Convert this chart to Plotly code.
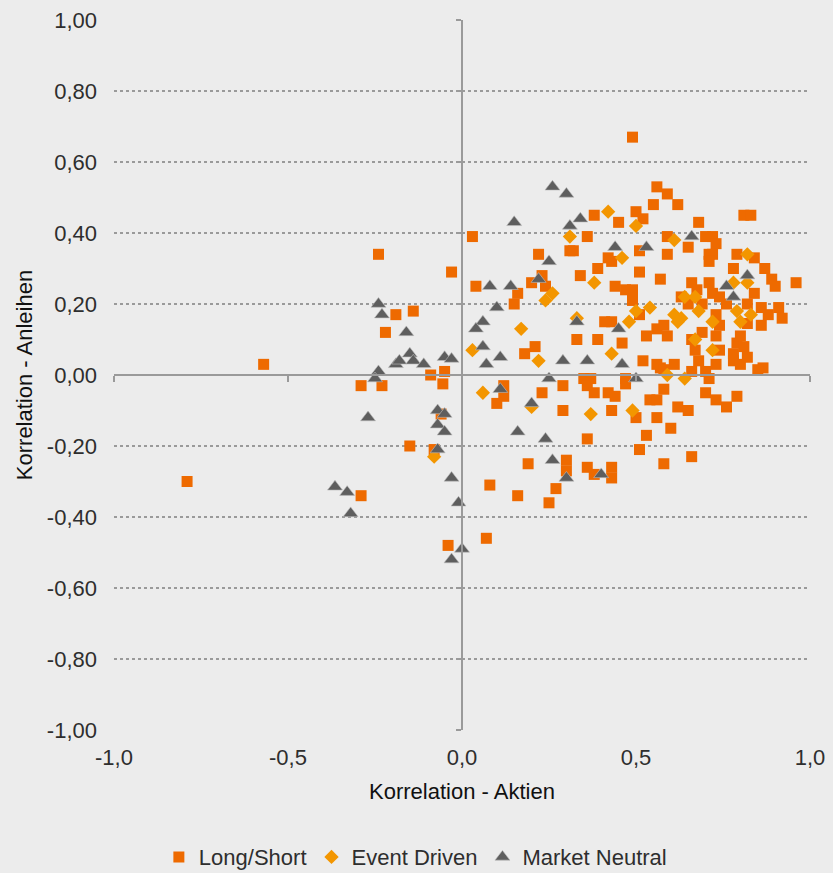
import plotly.graph_objects as go

# Long/Short (x = Korrelation Aktien, y = Korrelation Anleihen)
ls_x = [-0.79, -0.57, -0.29, -0.29, -0.24, -0.22, -0.19, -0.14, -0.23, -0.15, -0.09, -0.05, -0.055, -0.03, -0.06, -0.08, -0.04, 0.07, 0.08, 0.16,
        0.19, 0.25, 0.27, 0.30, 0.30, 0.36, 0.38, 0.36, 0.29, 0.23, 0.29, 0.35, 0.37, 0.36, 0.38, 0.12, 0.12, 0.10, 0.21, 0.18,
        0.33, 0.39, 0.03, 0.04, 0.16, 0.15, 0.22, 0.23, 0.20, 0.24, 0.31, 0.32, 0.36, 0.34, 0.39, 0.38, 0.49, 0.56, 0.59, 0.55,
        0.62, 0.50, 0.52, 0.45, 0.81, 0.83, 0.68, 0.70, 0.72, 0.73, 0.59, 0.65, 0.51, 0.59, 0.71, 0.72, 0.71, 0.79, 0.84, 0.78,
        0.87, 0.89, 0.90, 0.96, 0.66, 0.71, 0.57, 0.51, 0.42, 0.43, 0.44, 0.47, 0.49, 0.72, 0.84, 0.49, 0.51, 0.43, 0.41, 0.46,
        0.52, 0.53, 0.56, 0.58, 0.59, 0.63, 0.65, 0.69, 0.66, 0.69, 0.73, 0.67, 0.68, 0.74, 0.73, 0.73, 0.76, 0.74, 0.79, 0.80,
        0.81, 0.78, 0.82, 0.78, 0.80, 0.86, 0.86, 0.88, 0.91, 0.92, 0.865, 0.85, 0.70, 0.71, 0.66, 0.61, 0.57, 0.56, 0.58, 0.70,
        0.73, 0.76, 0.79, 0.62, 0.65, 0.54, 0.56, 0.50, 0.42, 0.44, 0.43, 0.56, 0.60, 0.53, 0.51, 0.66, 0.58, 0.43, 0.47, 0.675,
        0.43, 0.82, 0.82, 0.74, 0.58, 0.47]
ls_y = [-0.30, 0.03, -0.34, -0.03, 0.34, 0.12, 0.17, 0.18, -0.03, -0.20, 0.00, 0.01, -0.025, 0.29, -0.11, -0.21, -0.48, -0.46, -0.31, -0.34,
        -0.25, -0.36, -0.32, -0.27, -0.24, -0.26, -0.28, -0.18, -0.10, -0.05, -0.03, -0.01, -0.01, -0.03, -0.05, -0.03, -0.06, -0.08, 0.08, 0.06,
        0.10, 0.10, 0.39, 0.25, 0.23, 0.20, 0.34, 0.28, 0.26, 0.25, 0.35, 0.35, 0.39, 0.28, 0.30, 0.45, 0.67, 0.53, 0.51, 0.48,
        0.48, 0.46, 0.44, 0.43, 0.45, 0.45, 0.43, 0.39, 0.39, 0.37, 0.39, 0.36, 0.35, 0.34, 0.34, 0.34, 0.32, 0.34, 0.33, 0.30,
        0.30, 0.27, 0.25, 0.26, 0.26, 0.26, 0.27, 0.29, 0.33, 0.32, 0.25, 0.24, 0.24, 0.23, 0.23, 0.21, 0.17, 0.15, 0.15, 0.09,
        0.04, 0.11, 0.13, 0.14, 0.11, 0.22, 0.20, 0.20, 0.10, 0.12, 0.11, 0.07, 0.04, 0.07, 0.03, 0.17, 0.20, 0.22, 0.09, 0.11,
        0.08, 0.06, 0.05, 0.04, 0.03, 0.14, 0.19, 0.17, 0.19, 0.16, 0.02, 0.015, 0.01, -0.01, 0.01, 0.03, 0.02, 0.03, -0.04, -0.05,
        -0.07, -0.09, -0.06, -0.09, -0.10, -0.07, -0.07, -0.12, -0.05, -0.06, -0.10, -0.12, -0.15, -0.17, -0.21, -0.23, -0.25, -0.26, -0.01, 0.24,
        -0.29, 0.20, 0.145, 0.14, 0.015, -0.025]

# Event Driven
ed_x = [-0.08, 0.17, 0.03, 0.22, 0.33, 0.06, 0.20, 0.37, 0.31, 0.38, 0.26, 0.24, 0.42, 0.50, 0.61, 0.46, 0.64, 0.67, 0.82, 0.82,
        0.78, 0.50, 0.48, 0.54, 0.43, 0.61, 0.63, 0.62, 0.68, 0.72, 0.67, 0.72, 0.79, 0.80, 0.83, 0.59, 0.64, 0.49]
ed_y = [-0.23, 0.13, 0.07, 0.04, 0.16, -0.05, -0.09, -0.11, 0.39, 0.26, 0.23, 0.21, 0.46, 0.42, 0.38, 0.33, 0.22, 0.22, 0.34, 0.26,
        0.26, 0.18, 0.15, 0.19, 0.06, 0.17, 0.16, 0.15, 0.18, 0.15, 0.10, 0.07, 0.18, 0.15, 0.17, 0.00, -0.01, -0.10]

# Market Neutral
mn_x = [-0.365, -0.33, -0.32, -0.27, -0.24, -0.23, -0.24, -0.25, -0.19, -0.18, -0.16, -0.15, -0.14, -0.11, -0.05, -0.03, -0.07, -0.05, -0.07, -0.05,
        -0.07, -0.03, -0.01, 0.00, -0.03, 0.10, 0.06, 0.04, 0.06, 0.11, 0.07, 0.29, 0.36, 0.33, 0.25, 0.11, 0.20, 0.16, 0.24, 0.26,
        0.30, 0.40, 0.26, 0.30, 0.34, 0.31, 0.15, 0.25, 0.08, 0.14, 0.22, 0.44, 0.53, 0.66, 0.76, 0.82, 0.78, 0.45, 0.46, 0.50]
mn_y = [-0.315, -0.33, -0.39, -0.12, 0.20, 0.17, 0.01, -0.01, 0.03, 0.04, 0.12, 0.06, 0.04, 0.03, 0.05, 0.045, -0.10, -0.11, -0.14, -0.16,
        -0.21, -0.29, -0.36, -0.49, -0.52, 0.19, 0.15, 0.13, 0.08, 0.05, 0.03, 0.04, 0.04, 0.15, -0.01, -0.04, -0.08, -0.16, -0.18, -0.24,
        -0.29, -0.28, 0.53, 0.51, 0.44, 0.42, 0.43, 0.32, 0.25, 0.25, 0.27, 0.36, 0.36, 0.39, 0.25, 0.28, 0.22, 0.13, 0.03, -0.01]

x_ticks = [-1.0, -0.5, 0.0, 0.5, 1.0]
x_tick_labels = ["-1,0", "-0,5", "0,0", "0,5", "1,0"]
y_ticks = [-1.0, -0.8, -0.6, -0.4, -0.2, 0.0, 0.2, 0.4, 0.6, 0.8, 1.0]
y_tick_labels = ["-1,00", "-0,80", "-0,60", "-0,40", "-0,20", "0,00", "0,20", "0,40", "0,60", "0,80", "1,00"]

FONT = "Liberation Sans"
TXT = "#2E2E2E"
AX = "#9A9A9A"
BG = "#ECECEC"

fig = go.Figure()
fig.add_trace(go.Scatter(x=ls_x, y=ls_y, mode="markers", name="Long/Short",
                         marker=dict(symbol="square", size=11, color="#EE6A00", line=dict(width=0))))
fig.add_trace(go.Scatter(x=ed_x, y=ed_y, mode="markers", name="Event Driven",
                         marker=dict(symbol="diamond", size=11, color="#F39600", line=dict(width=0))))
fig.add_trace(go.Scatter(x=mn_x, y=mn_y, mode="markers", name="Market Neutral",
                         marker=dict(symbol="triangle-up", size=13, color="#5E5E5E",
                                     line=dict(width=0.6, color="#BDBDBD"))))
# dummy traces carrying the overlay axes drawn through zero
fig.add_trace(go.Scatter(x=[], y=[], xaxis="x2", yaxis="y", showlegend=False, hoverinfo="skip"))
fig.add_trace(go.Scatter(x=[], y=[], xaxis="x", yaxis="y2", showlegend=False, hoverinfo="skip"))

fig.update_layout(
    width=833, height=873,
    paper_bgcolor=BG, plot_bgcolor=BG,
    margin=dict(l=114, r=23, t=20, b=143, autoexpand=False),
    font=dict(family=FONT, size=22, color=TXT),
    xaxis=dict(range=[-1, 1], tickvals=x_ticks, ticktext=x_tick_labels, showgrid=False, zeroline=False,
               showline=False, ticks="", ticklabelstandoff=12,
               title=dict(text="Korrelation - Aktien", font=dict(size=22, color="#111111"), standoff=14)),
    yaxis=dict(range=[-1, 1], tickvals=y_ticks, ticktext=y_tick_labels, showgrid=True, gridcolor=AX,
               griddash="dot", gridwidth=1.5, zeroline=False, showline=False, ticks="",
               ticklabelstandoff=16,
               title=dict(text="Korrelation - Anleihen", font=dict(size=22, color="#111111"), standoff=8)),
    xaxis2=dict(range=[-1, 1], overlaying="x", anchor="free", position=0.5, side="bottom",
                tickvals=x_ticks, showticklabels=False, showgrid=False, zeroline=False,
                showline=True, linecolor=AX, linewidth=2, ticks="outside", ticklen=6,
                tickcolor=AX, tickwidth=2),
    yaxis2=dict(range=[-1, 1], overlaying="y", anchor="free", position=0.5, side="left",
                tickvals=y_ticks, showticklabels=False, showgrid=False, zeroline=False,
                showline=True, linecolor=AX, linewidth=2, ticks="outside", ticklen=5,
                tickcolor=AX, tickwidth=2),
    legend=dict(orientation="h", x=0.433, xanchor="center", y=-0.179, yanchor="middle",
                font=dict(size=22, color=TXT), bgcolor="rgba(0,0,0,0)", itemwidth=30,
                tracegroupgap=0),
    showlegend=True,
)

fig.write_html(
    "out.html",
    config={"displayModeBar": False},
    post_script="document.body.style.margin='0';document.body.style.background='%s';"
                "document.documentElement.style.overflow='hidden';" % BG,
)
